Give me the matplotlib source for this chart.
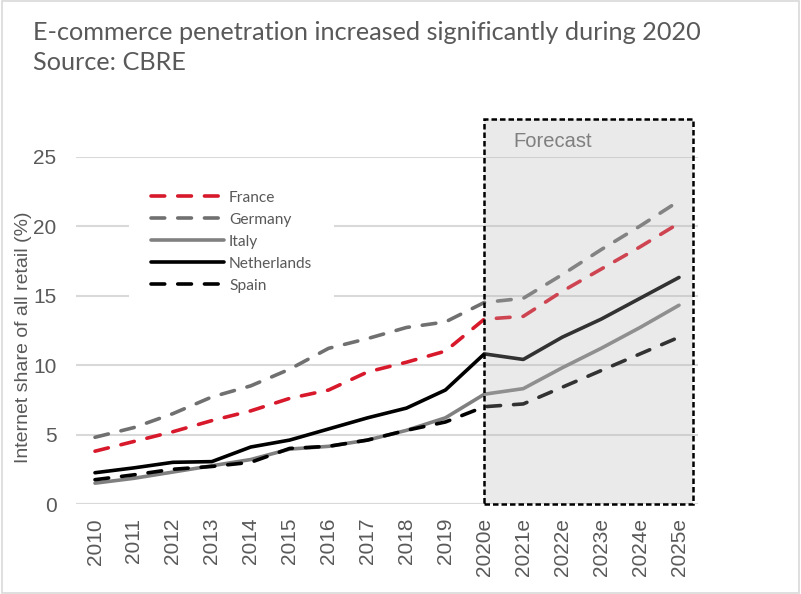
import matplotlib.pyplot as plt
from matplotlib.patches import Rectangle

# Data -----------------------------------------------------------------
years = ['2010', '2011', '2012', '2013', '2014', '2015', '2016', '2017',
         '2018', '2019', '2020e', '2021e', '2022e', '2023e', '2024e', '2025e']
france = [3.8, 4.5, 5.2, 6.0, 6.7, 7.6, 8.2, 9.5, 10.2, 11.0, 13.3, 13.5, 15.3, 16.9, 18.5, 20.2]
germany = [4.8, 5.5, 6.5, 7.7, 8.5, 9.7, 11.2, 11.9, 12.7, 13.1, 14.5, 14.8, 16.5, 18.3, 20.0, 21.8]
italy = [1.5, 1.85, 2.3, 2.75, 3.2, 3.95, 4.15, 4.6, 5.3, 6.2, 7.9, 8.3, 9.8, 11.2, 12.7, 14.3]
netherlands = [2.25, 2.6, 3.0, 3.05, 4.1, 4.6, 5.4, 6.2, 6.9, 8.2, 10.8, 10.4, 12.0, 13.3, 14.8, 16.3]
spain = [1.75, 2.1, 2.5, 2.7, 3.0, 4.0, 4.15, 4.6, 5.3, 5.9, 7.0, 7.2, 8.4, 9.6, 10.8, 12.0]
yticks = [0, 5, 10, 15, 20, 25]

title_txt = "E-commerce penetration increased significantly during 2020\nSource: CBRE"
txt_col = '#595959'

fig = plt.figure(figsize=(8.01, 5.94), dpi=100)
ax = fig.add_axes([0.0943, 0.1515, 0.7777, 0.585])

x = list(range(len(years)))
dash = (0, (3.8, 3.6))
lw = 2.6
ax.plot(x, france, color='#d7192b', lw=lw, linestyle=dash, dash_capstyle='round', label='France', zorder=3)
ax.plot(x, germany, color='#707070', lw=lw, linestyle=dash, dash_capstyle='round', label='Germany', zorder=3)
ax.plot(x, italy, color='#808080', lw=lw, solid_capstyle='round', label='Italy', zorder=3)
ax.plot(x, netherlands, color='black', lw=lw, solid_capstyle='round', label='Netherlands', zorder=3)
ax.plot(x, spain, color='black', lw=lw, linestyle=dash, dash_capstyle='round', label='Spain', zorder=3)

# Forecast box (semi-transparent grey over the lines)
fx0, fx1, ftop = 10, 15.36, 27.7
ax.add_patch(Rectangle((fx0, 0), fx1 - fx0, ftop, facecolor='#b7b7b7', alpha=0.28,
                       edgecolor='none', zorder=4, clip_on=False))
ax.add_patch(Rectangle((fx0, 0), fx1 - fx0, ftop, facecolor='none', edgecolor='black',
                       lw=1.8, linestyle=(0, (2.2, 1.2)), zorder=5, clip_on=False))
ax.text(11.75, 26.1, 'Forecast', color='#7f7f7f', fontsize=14.5,
        family='Liberation Sans', ha='center', va='center', zorder=6)

ax.set_xlim(-0.5, len(years) - 0.5)
ax.set_ylim(0, 25)
ax.set_yticks(yticks)
ax.set_xticks(x)
ax.set_xticklabels(years, rotation=90, family='Liberation Sans', fontsize=15, color=txt_col)
for lab in ax.get_yticklabels():
    lab.set_family('Liberation Sans')
    lab.set_fontsize(15)
    lab.set_color(txt_col)
ax.tick_params(axis='y', length=0, pad=13.7)
ax.tick_params(axis='x', length=0, pad=10)
ax.grid(axis='y', color='#d9d9d9', lw=1.5, zorder=0)
for s in ax.spines.values():
    s.set_visible(False)
ax.axhline(0, color='#d9d9d9', lw=1.5, zorder=1)
ax.set_ylabel('Internet share of all retail (%)', family='Liberation Sans',
              fontsize=14, color=txt_col)
ax.yaxis.set_label_coords(-0.07, 0.48)

leg = ax.legend(loc='upper left', bbox_to_anchor=(121 / 801, 1 - 161 / 594),
                bbox_transform=fig.transFigure, frameon=True, fancybox=False,
                handlelength=4.7, handletextpad=0.35, labelspacing=0.52,
                borderpad=1.4, prop={'family': 'Lato', 'size': 11.2})
leg.get_frame().set_edgecolor('none')
leg.get_frame().set_facecolor('white')
leg.get_frame().set_alpha(1)
leg.set_zorder(7)
for t in leg.get_texts():
    t.set_color(txt_col)

fig.text(33 / 801, 1 - 21 / 594, title_txt, ha='left', va='top', color=txt_col,
         fontsize=18.2, family='Lato', linespacing=1.38)

# chart border
fig.patches.append(Rectangle((0.002, 0.002), 0.996, 0.996, transform=fig.transFigure,
                             facecolor='none', edgecolor='#d9d9d9', lw=1.2))

fig.savefig('out.png', dpi=100)
